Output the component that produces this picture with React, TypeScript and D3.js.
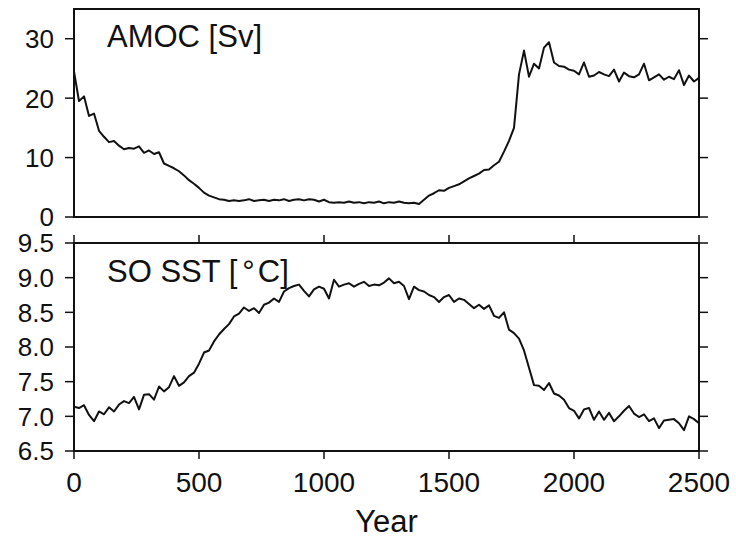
import React from "react";
import * as d3 from "d3";

// Years sampled every 20 years from 0 to 2500
const years: number[] = d3.range(0, 2501, 20);

const amoc: number[] = [
  24.5, 19.5, 20.3, 17.0, 17.4, 14.5, 13.5, 12.6, 12.8, 12.0,
  11.4, 11.6, 11.5, 11.9, 10.8, 11.2, 10.6, 10.9, 9.0, 8.6,
  8.2, 7.7, 7.0, 6.2, 5.6, 4.9, 4.1, 3.6, 3.3, 3.0,
  2.9, 2.7, 2.8, 2.7, 2.8, 3.0, 2.7, 2.8, 2.9, 2.7,
  2.9, 2.8, 3.0, 2.7, 2.9, 3.0, 2.8, 3.0, 2.9, 2.6,
  2.9, 2.5, 2.4, 2.5, 2.4, 2.6, 2.4, 2.5, 2.3, 2.5,
  2.4, 2.6, 2.3, 2.5, 2.4, 2.6, 2.4, 2.3, 2.4, 2.2,
  2.9, 3.6, 4.0, 4.5, 4.4, 4.9, 5.2, 5.5, 6.0, 6.5,
  6.9, 7.3, 7.9, 8.0, 8.7, 9.3, 11.0, 12.8, 15.0, 24.0,
  28.0, 23.6, 25.8, 25.0, 28.5, 29.4, 26.0, 25.4, 25.3, 24.8,
  24.6, 24.0, 26.0, 23.6, 23.8, 24.4, 24.0, 23.7, 24.8, 22.8,
  24.3, 23.7, 23.5, 24.0, 25.8, 23.0, 23.5, 24.0, 23.1, 23.6,
  23.2, 24.7, 22.2, 23.8, 22.8, 23.4,
];

const sst: number[] = [
  7.14, 7.12, 7.16, 7.02, 6.93, 7.07, 7.03, 7.13, 7.07, 7.17,
  7.22, 7.19, 7.28, 7.10, 7.31, 7.32, 7.24, 7.43, 7.36, 7.42,
  7.58, 7.44, 7.49, 7.58, 7.63, 7.76, 7.92, 7.95, 8.08, 8.18,
  8.26, 8.33, 8.44, 8.48, 8.57, 8.52, 8.56, 8.49, 8.61, 8.64,
  8.70, 8.65, 8.80, 8.85, 8.88, 8.90, 8.81, 8.73, 8.83, 8.87,
  8.84, 8.70, 8.97, 8.87, 8.90, 8.92, 8.87, 8.91, 8.94, 8.88,
  8.90, 8.89, 8.93, 8.99, 8.92, 8.94, 8.88, 8.69, 8.87, 8.82,
  8.80, 8.75, 8.72, 8.65, 8.72, 8.75, 8.65, 8.70, 8.68, 8.62,
  8.56, 8.61, 8.55, 8.60, 8.45, 8.42, 8.50, 8.25, 8.20, 8.12,
  7.95, 7.70, 7.45, 7.44, 7.38, 7.48, 7.33, 7.30, 7.24, 7.12,
  7.08, 6.97, 7.10, 7.12, 6.95, 7.07, 6.95, 7.05, 6.93, 7.00,
  7.08, 7.15, 7.04, 6.99, 7.03, 6.93, 6.97, 6.83, 6.94, 6.95,
  6.96, 6.90, 6.80, 7.00, 6.96, 6.90,
];

const xTicks: number[] = [0, 500, 1000, 1500, 2000, 2500];
const amocTicks: number[] = [0, 10, 20, 30];
const sstTicks: number[] = [6.5, 7.0, 7.5, 8.0, 8.5, 9.0, 9.5];

const W = 736;
const H = 540;
const left = 74;
const right = 699;
const top1 = 9;
const bot1 = 217;
const top2 = 243;
const bot2 = 451;
const ink = "#111";
const font = "'Liberation Sans', Arial, Helvetica, sans-serif";

export default function App() {
  const x = d3.scaleLinear().domain([0, 2500]).range([left, right]);
  const y1 = d3.scaleLinear().domain([0, 35]).range([bot1, top1]);
  const y2 = d3.scaleLinear().domain([6.5, 9.5]).range([bot2, top2]);

  const line1 = d3
    .line<number>()
    .x((_, i) => x(years[i]))
    .y((d) => y1(d));
  const line2 = d3
    .line<number>()
    .x((_, i) => x(years[i]))
    .y((d) => y2(d));

  const tickLen = 9;
  const tfs = 26;

  return (
    <svg
      width={W}
      height={H}
      style={{ position: "absolute", left: 0, top: 0, display: "block", background: "#fff" }}
      fontFamily={font}
    >
      <defs>
        <clipPath id="c1">
          <rect x={left} y={top1} width={right - left} height={bot1 - top1} />
        </clipPath>
        <clipPath id="c2">
          <rect x={left} y={top2} width={right - left} height={bot2 - top2} />
        </clipPath>
      </defs>

      {/* Top panel */}
      <path d={line1(amoc) || ""} fill="none" stroke={ink} strokeWidth={2} strokeLinejoin="round" clipPath="url(#c1)" />
      <rect x={left} y={top1} width={right - left} height={bot1 - top1} fill="none" stroke={ink} strokeWidth={2} />
      {amocTicks.map((t) => (
        <g key={"a" + t}>
          <line x1={left - tickLen} x2={left} y1={y1(t)} y2={y1(t)} stroke={ink} strokeWidth={1.5} />
          <line x1={right} x2={right + tickLen} y1={y1(t)} y2={y1(t)} stroke={ink} strokeWidth={1.5} />
          <text x={54} y={y1(t) + 0.36 * tfs} textAnchor="end" fontSize={tfs} fill={ink}>
            {String(t)}
          </text>
        </g>
      ))}
      <text x={107} y={47} fontSize={31} fill={ink}>
        AMOC [Sv]
      </text>

      {/* Bottom panel */}
      <path d={line2(sst) || ""} fill="none" stroke={ink} strokeWidth={2} strokeLinejoin="round" clipPath="url(#c2)" />
      <rect x={left} y={top2} width={right - left} height={bot2 - top2} fill="none" stroke={ink} strokeWidth={2} />
      {sstTicks.map((t) => (
        <g key={"s" + t}>
          <line x1={left - tickLen} x2={left} y1={y2(t)} y2={y2(t)} stroke={ink} strokeWidth={1.5} />
          <line x1={right} x2={right + tickLen} y1={y2(t)} y2={y2(t)} stroke={ink} strokeWidth={1.5} />
          <text x={54} y={y2(t) + 0.36 * tfs} textAnchor="end" fontSize={tfs} fill={ink}>
            {t.toFixed(1)}
          </text>
        </g>
      ))}
      {xTicks.map((t) => (
        <g key={"x" + t}>
          <line x1={x(t)} x2={x(t)} y1={top2 - 8} y2={top2} stroke={ink} strokeWidth={1.5} />
          <line x1={x(t)} x2={x(t)} y1={bot2} y2={bot2 + 8} stroke={ink} strokeWidth={1.5} />
          <text x={x(t)} y={492} textAnchor="middle" fontSize={28} fill={ink}>
            {String(t)}
          </text>
        </g>
      ))}
      <text x={107} y={282} fontSize={31} fill={ink}>
        SO SST [<tspan dx={5}>°</tspan>
        <tspan dx={3}>C]</tspan>
      </text>
      <text x={(left + right) / 2} y={532} textAnchor="middle" fontSize={31} fill={ink}>
        Year
      </text>
    </svg>
  );
}
